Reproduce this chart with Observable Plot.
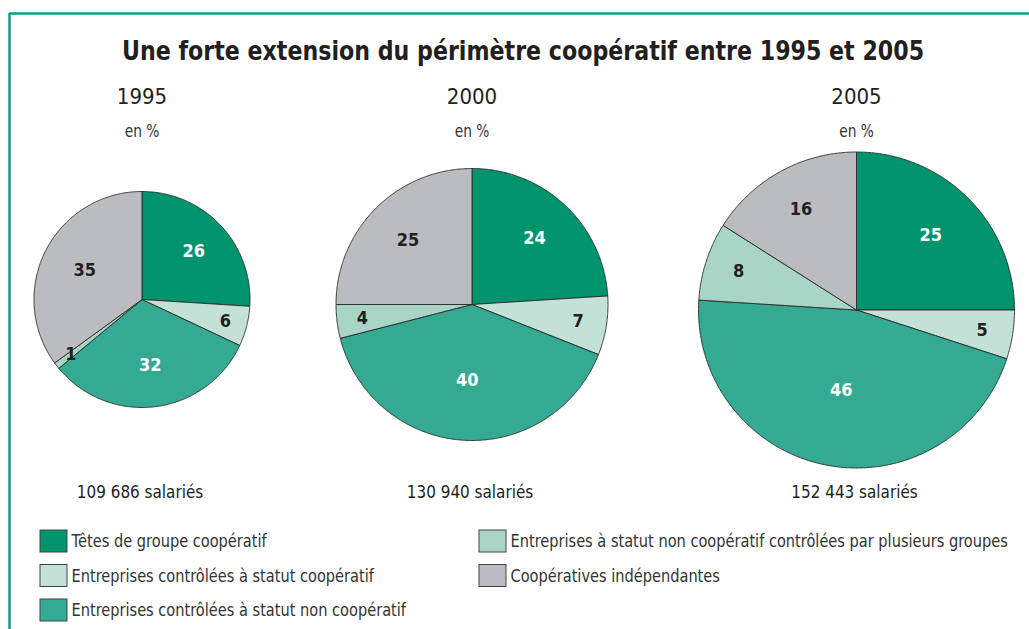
<!DOCTYPE html>
<html><head><meta charset="utf-8">
<script src="https://cdn.jsdelivr.net/npm/d3@7"></script>
<script src="https://cdn.jsdelivr.net/npm/@observablehq/plot@0.6"></script>
<style>
html,body{margin:0;padding:0;background:#fff;}
#chart svg{display:block;}
</style></head><body><div id="chart"></div>
<script>
// ---- data ----
const title = "Une forte extension du périmètre coopératif entre 1995 et 2005";
const unitLabel = "en %";
const years = ["1995", "2000", "2005"];
const employeeLabels = ["109 686 salariés", "130 940 salariés", "152 443 salariés"];
const categories = [
  "Têtes de groupe coopératif",
  "Entreprises contrôlées à statut coopératif",
  "Entreprises contrôlées à statut non coopératif",
  "Entreprises à statut non coopératif contrôlées par plusieurs groupes",
  "Coopératives indépendantes"
];
const colors = ["#00946e", "#c4e1d7", "#33aa91", "#a9d5c7", "#bbbcc0"];
const values1995 = [26, 6, 32, 1, 35];
const values2000 = [24, 7, 40, 4, 25];
const values2005 = [25, 5, 46, 8, 16];

// ---- layout ----
const W = 1029, H = 629;
const pies = [
  {cx: 141.5, cy: 299, r: 108},
  {cx: 471.5, cy: 304, r: 136},
  {cx: 856, cy: 309.5, r: 158}
];
const legendCols = [40, 479];
const legendRows = [530, 564.5, 599];
const legendPlace = [[0,0],[0,1],[0,2],[1,0],[1,1]];
const whiteLabel = [true, false, true, false, false];

const pie = d3.pie().sort(null).value(d => d);
const slicePts = [], labels = [];
[values1995, values2000, values2005].forEach((vals, p) => {
  const {cx, cy, r} = pies[p];
  pie(vals).forEach((a, i) => {
    const key = years[p] + "-" + i;
    const pts = [{x: cx, y: cy}];
    const n = Math.max(2, Math.ceil((a.endAngle - a.startAngle) / (Math.PI / 360)));
    for (let k = 0; k <= n; k++) {
      const t = a.startAngle + (a.endAngle - a.startAngle) * k / n;
      pts.push({x: cx + r * Math.sin(t), y: cy - r * Math.cos(t)});
    }
    pts.push({x: cx, y: cy});
    pts.forEach(q => slicePts.push({...q, key, cat: categories[i]}));
    const mid = (a.startAngle + a.endAngle) / 2;
    const f = (0.84 - 0.007 * vals[i]) * r;
    labels.push({x: cx + f * Math.sin(mid), y: cy - f * Math.cos(mid), text: String(vals[i]), white: whiteLabel[i]});
  });
});

const heads = years.map((y, i) => ({x: pies[i].cx, year: y, emp: employeeLabels[i]}));
const legendItems = categories.map((c, i) => {
  const [col, row] = legendPlace[i];
  return {cat: c, x1: legendCols[col], x2: legendCols[col] + 27, y1: legendRows[row], y2: legendRows[row] + 22};
});

const font = "'Liberation Sans Narrow','DejaVu Sans Condensed','Arial Narrow',sans-serif";
const ink = "#231f20";

const chart = Plot.plot({
  width: W, height: H,
  margin: 0,
  x: {domain: [0, W], range: [0, W], axis: null},
  y: {domain: [0, H], range: [0, H], axis: null},
  color: {domain: categories, range: colors},
  style: {fontFamily: font, background: "#fff", color: ink, overflow: "visible"},
  marks: [
    // frame
    Plot.ruleY([13], {x1: 9, x2: W, stroke: "#0a9e7f", strokeWidth: 2.5}),
    Plot.ruleX([9], {y1: 13, y2: H, stroke: "#0a9e7f", strokeWidth: 2.5}),
    // title
    Plot.text([title], {x: W / 2 + 8, y: 51, text: d => d, fontSize: 26, fontWeight: "bold", fill: ink}),
    // year heads
    Plot.text(heads, {x: "x", y: 96, text: "year", fontSize: 22, fill: ink}),
    Plot.text(heads, {x: "x", y: 131, text: () => unitLabel, fontSize: 17, fill: "#333"}),
    Plot.text(heads, {x: d => d.x - 2, y: 492, text: "emp", fontSize: 18, fill: ink}),
    // pies
    Plot.line(slicePts, {x: "x", y: "y", z: "key", fill: "cat", stroke: "#2a2a2a", strokeWidth: 0.9, strokeLinejoin: "round", curve: "linear"}),
    Plot.text(labels.filter(d => d.white), {x: "x", y: "y", text: "text", fill: "white", fontSize: 18, fontWeight: "bold"}),
    Plot.text(labels.filter(d => !d.white), {x: "x", y: "y", text: "text", fill: ink, fontSize: 18, fontWeight: "bold"}),
    // legend
    Plot.rect(legendItems, {x1: "x1", x2: "x2", y1: "y1", y2: "y2", fill: "cat", stroke: "#444", strokeWidth: 1}),
    Plot.text(legendItems, {x: d => d.x2 + 4, y: d => (d.y1 + d.y2) / 2, text: "cat", textAnchor: "start", fontSize: 18, fill: "#333"})
  ]
});
document.getElementById("chart").appendChild(chart);

// condense text horizontally to mimic the narrow typeface of the original
chart.querySelectorAll("text").forEach(t => {
  const s = t.textContent;
  if (/^\d+$/.test(s)) return;
  const k = s === title ? 0.947 : employeeLabels.includes(s) ? 0.94 : 0.9;
  const len = t.getComputedTextLength();
  if (len > 0) {
    t.setAttribute("textLength", (len * k).toFixed(1));
    t.setAttribute("lengthAdjust", "spacingAndGlyphs");
  }
});
</script>
</body></html>
